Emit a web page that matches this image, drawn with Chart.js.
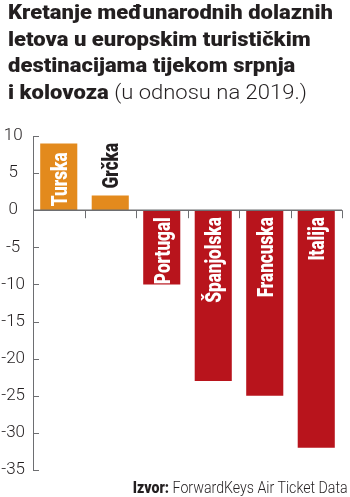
<!DOCTYPE html>
<html>
<head>
<meta charset="utf-8">
<script src="https://cdn.jsdelivr.net/npm/chart.js@4.4.1/dist/chart.umd.min.js"></script>
<style>
  html, body { margin: 0; padding: 0; background: #fff; }
  #wrap { position: relative; width: 350px; height: 497px; overflow: hidden; }
  #chartBox { position: absolute; left: 0; top: 0; width: 350px; height: 497px; }
  #title {
    position: absolute; left: 8px; top: -1px; white-space: nowrap;
    font-family: Roboto, "DejaVu Sans", sans-serif; font-size: 20px; line-height: 26.5px;
    font-weight: 900; color: #231f20; transform-origin: left top;
  }
  #title .sub { font-weight: 300; }
  #source {
    position: absolute; right: 2px; top: 480px; white-space: nowrap;
    font-family: Roboto, "DejaVu Sans", sans-serif; font-size: 16px; line-height: 16px;
    color: #231f20; transform-origin: right top;
  }
  #source b { font-weight: 900; }
  #source span { font-weight: 300; }
</style>
</head>
<body>
<div id="wrap">
  <div id="chartBox"><canvas id="chartLetovi"></canvas></div>
  <div id="title">
    <div id="titleFirst" style="display:inline-block">Kretanje međunarodnih dolaznih</div><br>
    letova u europskim turističkim<br>
    destinacijama tijekom srpnja<br>
    i kolovoza <span class="sub">(u odnosu na 2019.)</span>
  </div>
  <div id="source"><b>Izvor:</b> <span>ForwardKeys Air Ticket Data</span></div>
</div>
<script>
// Promjena broja dolaznih letova, % u odnosu na 2019.
const COUNTRIES = ['Turska', 'Grčka', 'Portugal', 'Španjolska', 'Francuska', 'Italija'];
const CHANGE = [9, 2, -10, -23, -25, -32];
const Y_MIN = -35;
const Y_MAX = 10;
const Y_STEP = 5;

const UP_COLOR = '#e38a1d';
const DOWN_COLOR = '#b8141c';
const INK = '#231f20';
const AXIS = '#6d6e71';

// naslov i izvor su uži font - stisni ih na širinu
function squeezeText() {
    const title = document.getElementById('title');
    const first = document.getElementById('titleFirst');
    const k = 325 / first.getBoundingClientRect().width;
    title.style.transform = `scaleX(${k})`;

    const src = document.getElementById('source');
    const ks = 215 / src.getBoundingClientRect().width;
    src.style.transform = `scaleX(${ks})`;
}

// crtice na osima i nulta linija
const axisMarks = {
    id: 'axisMarks',
    afterDatasetsDraw(chart) {
        const { ctx, chartArea, scales: { x, y } } = chart;
        const y0 = y.getPixelForValue(0);
        ctx.save();
        ctx.strokeStyle = AXIS;

        // crtice na y osi (prema unutra)
        ctx.lineWidth = 1;
        y.ticks.forEach(t => {
            const py = Math.round(y.getPixelForValue(t.value)) + 0.5;
            ctx.beginPath();
            ctx.moveTo(chartArea.left, py);
            ctx.lineTo(chartArea.left + 6, py);
            ctx.stroke();
        });

        // nulta linija
        ctx.lineWidth = 1.5;
        ctx.beginPath();
        ctx.moveTo(chartArea.left, y0);
        ctx.lineTo(chartArea.right, y0);
        ctx.stroke();

        // granice kategorija
        ctx.lineWidth = 1;
        for (let i = 1; i <= COUNTRIES.length; i++) {
            const px = Math.round(x.getPixelForValue(i - 0.5)) + 0.5;
            ctx.beginPath();
            ctx.moveTo(px, y0);
            ctx.lineTo(px, y0 + 8);
            ctx.stroke();
        }
        ctx.restore();
    }
};

// nazivi zemalja okomito u stupcima
const BAR_FONT = '900 22px Roboto, "DejaVu Sans", sans-serif';
const SQUEEZE = 0.78;
const CAP = 15.6;

const barLabels = {
    id: 'barLabels',
    afterDatasetsDraw(chart) {
        const { ctx } = chart;
        const meta = chart.getDatasetMeta(0);
        ctx.save();
        ctx.font = BAR_FONT;
        ctx.textBaseline = 'alphabetic';
        meta.data.forEach((bar, i) => {
            const label = COUNTRIES[i];
            const len = Math.abs(bar.base - bar.y);
            const w = ctx.measureText(label).width * SQUEEZE;
            const positive = CHANGE[i] >= 0;
            // negativni stupci su svi dovoljno dugi
            const inside = !positive || w + 8 < len;

            ctx.save();
            if (positive) {
                ctx.translate(bar.x, inside ? bar.base - 4 : bar.y - 7);
                ctx.textAlign = 'left';
            } else {
                ctx.translate(bar.x, bar.base + 7);
                ctx.textAlign = 'right';
            }
            ctx.rotate(-Math.PI / 2);
            ctx.scale(SQUEEZE, 1);
            ctx.fillStyle = inside ? '#fff' : INK;
            ctx.fillText(label, 0, CAP / 2);
            ctx.restore();
        });
        ctx.restore();
    }
};

function renderChart() {
    new Chart(document.getElementById('chartLetovi'), {
        type: 'bar',
        data: {
            labels: COUNTRIES,
            datasets: [{
                data: CHANGE,
                backgroundColor: CHANGE.map(v => v >= 0 ? UP_COLOR : DOWN_COLOR),
                borderWidth: 0,
                categoryPercentage: 1,
                barPercentage: 0.72
            }]
        },
        options: {
            responsive: true,
            maintainAspectRatio: false,
            animation: false,
            layout: { padding: { top: 136, bottom: 27, right: 8, left: 0 } },
            plugins: {
                legend: { display: false },
                tooltip: { enabled: false }
            },
            scales: {
                x: { display: false },
                y: {
                    min: Y_MIN,
                    max: Y_MAX,
                    afterFit: scale => { scale.width = 33; },
                    grid: { display: false, drawTicks: false },
                    border: { display: true, color: AXIS, width: 1 },
                    ticks: {
                        stepSize: Y_STEP,
                        crossAlign: 'center',
                        padding: 8,
                        color: INK,
                        font: { family: 'Roboto, "DejaVu Sans", sans-serif', size: 17, weight: 300 }
                    }
                }
            }
        },
        plugins: [axisMarks, barLabels]
    });
}

document.addEventListener('DOMContentLoaded', () => {
    squeezeText();
    renderChart();
});
</script>
</body>
</html>
